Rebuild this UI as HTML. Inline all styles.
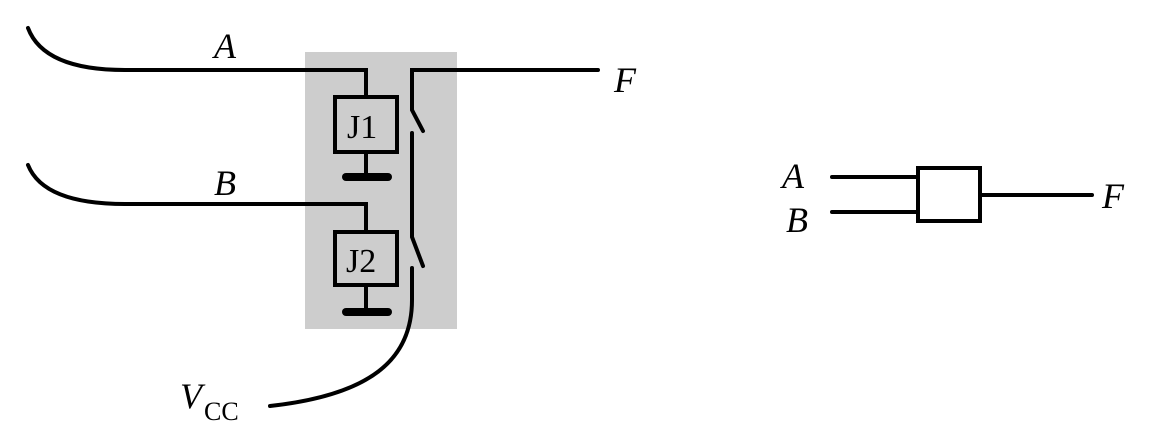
<!DOCTYPE html>
<html><head><meta charset="utf-8"><style>
html,body{margin:0;padding:0;background:#fff;}
svg{display:block;}
text{font-family:"Liberation Serif","Times New Roman",serif;fill:#000;}
</style></head><body>
<svg width="1152" height="431" viewBox="0 0 1152 431" xmlns="http://www.w3.org/2000/svg">
<rect x="305" y="52" width="152" height="277" fill="#cdcdcd"/>
<g fill="none" stroke="#000" stroke-width="4" stroke-linecap="round" stroke-linejoin="miter">
<path d="M28,28 C40,60 80,70 125,70 L366,70 L366,97"/>
<rect x="335" y="97" width="62" height="55"/>
<line x1="366" y1="152" x2="366" y2="177"/>
<path d="M28,165 C40,195 80,204 125,204 L366,204 L366,232"/>
<rect x="335" y="232" width="62" height="53"/>
<line x1="366" y1="285" x2="366" y2="312"/>
<path d="M598,70 L412,70 L412,110 L423,131"/>
<path d="M412,133 L412,237 L423,266"/>
<path d="M412,268 L412,300 C412,360 370,395 270,406"/>
<line x1="832" y1="177" x2="918" y2="177"/>
<line x1="832" y1="212" x2="918" y2="212"/>
<rect x="918" y="168" width="62" height="53"/>
<line x1="980" y1="195" x2="1092" y2="195"/>
</g>
<g stroke="#000" stroke-width="8" stroke-linecap="round">
<line x1="346" y1="177" x2="388" y2="177"/>
<line x1="346" y1="312" x2="388" y2="312"/>
</g>
<text x="347" y="138" font-size="34">J1</text>
<text x="346" y="272" font-size="34">J2</text>
<text x="214" y="58" font-size="36" font-style="italic">A</text>
<text x="214" y="195" font-size="36" font-style="italic">B</text>
<text x="614" y="92" font-size="36" font-style="italic">F</text>
<text x="180" y="408" font-size="36" font-style="italic">V</text>
<text x="204" y="420" font-size="26">CC</text>
<text x="782" y="188" font-size="36" font-style="italic">A</text>
<text x="786" y="232" font-size="36" font-style="italic">B</text>
<text x="1102" y="208" font-size="36" font-style="italic">F</text>
</svg>
</body></html>
